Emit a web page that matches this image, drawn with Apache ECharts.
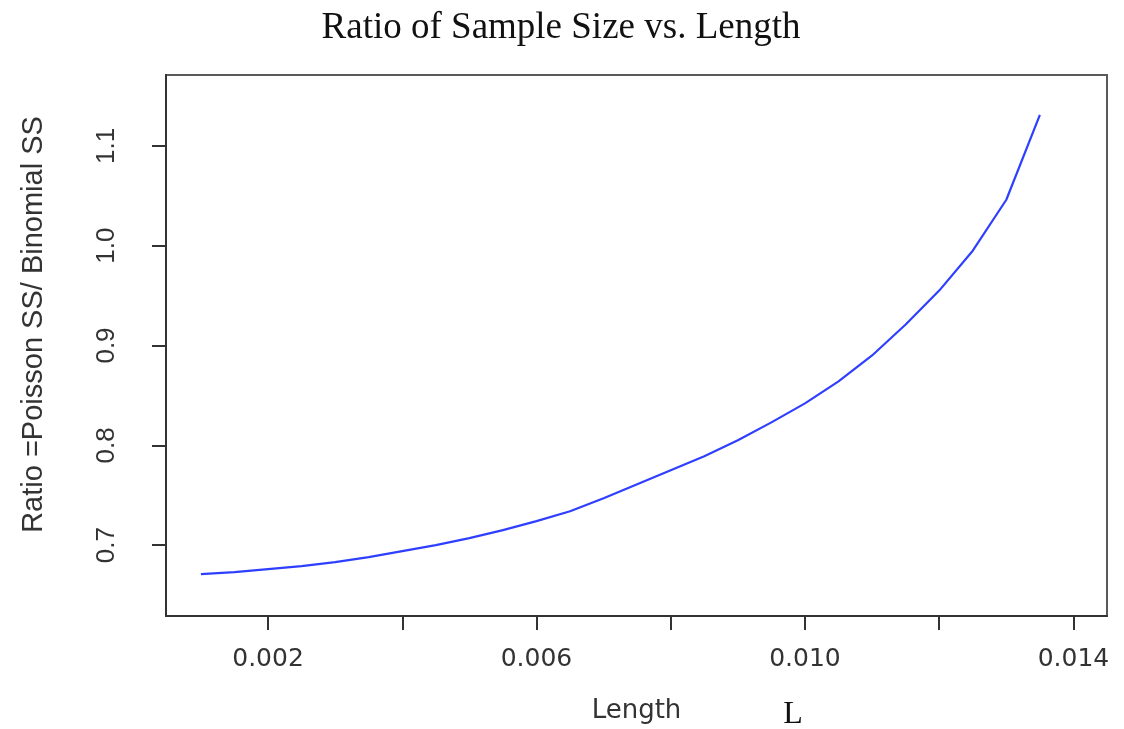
<!DOCTYPE html>
<html>
<head>
<meta charset="utf-8">
<script src="https://cdn.jsdelivr.net/npm/echarts@6/dist/echarts.min.js"></script>
<style>html,body{margin:0;padding:0;background:#fff;}#c{width:1124px;height:729px;}</style>
</head>
<body>
<div id="c"></div>
<script>
const lengths = [0.001,0.0015,0.002,0.0025,0.003,0.0035,0.004,0.0045,0.005,0.0055,0.006,0.0065,0.007,0.0075,0.008,0.0085,0.009,0.0095,0.010,0.0105,0.011,0.0115,0.012,0.0125,0.013,0.0135];
const ratios = [0.671,0.673,0.676,0.679,0.683,0.688,0.694,0.700,0.707,0.715,0.724,0.734,0.747,0.761,0.775,0.789,0.805,0.823,0.842,0.864,0.890,0.921,0.955,0.995,1.046,1.131];
const xTicks = [0.002,0.004,0.006,0.008,0.010,0.012,0.014];
const xLabels = [0.002,0.006,0.010,0.014];
const yTicks = [0.7,0.8,0.9,1.0,1.1];

const chart = echarts.init(document.getElementById('c'));
chart.setOption({
  animation: false,
  backgroundColor: '#fff',
  title: [
    {text: 'Ratio of Sample Size vs. Length', left: 556, top: 5, textAlign: 'center',
     textStyle: {fontFamily: 'Liberation Serif', fontWeight: 'normal', fontSize: 37, color: '#111'}},
    {text: 'L', left: 788, top: 694, textAlign: 'center',
     textStyle: {fontFamily: 'Liberation Serif', fontWeight: 'normal', fontSize: 32, color: '#111'}}
  ],
  grid: {left: 166, top: 75, right: 17, bottom: 111, show: true, borderColor: '#5a5a5a', borderWidth: 2},
  xAxis: {
    type: 'value', min: 0.00048, max: 0.0145,
    splitLine: {show: false},
    axisLine: {show: true, lineStyle: {color: '#333', width: 2}},
    axisTick: {show: true, length: 14, inside: false, customValues: xTicks, lineStyle: {color: '#333', width: 2}},
    axisLabel: {customValues: xLabels, margin: 31, fontFamily: 'DejaVu Sans', fontSize: 25, color: '#333',
      formatter: v => v.toFixed(3)},
    name: 'Length', nameLocation: 'middle', nameGap: 82,
    nameTextStyle: {fontFamily: 'DejaVu Sans', fontSize: 26, color: '#333'}
  },
  yAxis: {
    type: 'value', min: 0.629, max: 1.171,
    splitLine: {show: false},
    axisLine: {show: true, lineStyle: {color: '#333', width: 2}},
    axisTick: {show: true, length: 14, inside: false, customValues: yTicks, lineStyle: {color: '#333', width: 2}},
    axisLabel: {customValues: yTicks, rotate: 90, margin: 46, fontFamily: 'Liberation Sans', fontSize: 26, color: '#333',
      formatter: v => v.toFixed(1)},
    name: 'Ratio =Poisson SS/ Binomial SS', nameLocation: 'middle', nameGap: 118,
    nameTextStyle: {fontFamily: 'Liberation Sans', fontSize: 29, color: '#333', padding: [0, 0, 0, 42]}
  },
  series: [{
    type: 'line', data: lengths.map((x, i) => [x, ratios[i]]),
    showSymbol: false, smooth: false,
    lineStyle: {color: '#2f3fff', width: 2.2}
  }]
});
</script>
</body>
</html>
